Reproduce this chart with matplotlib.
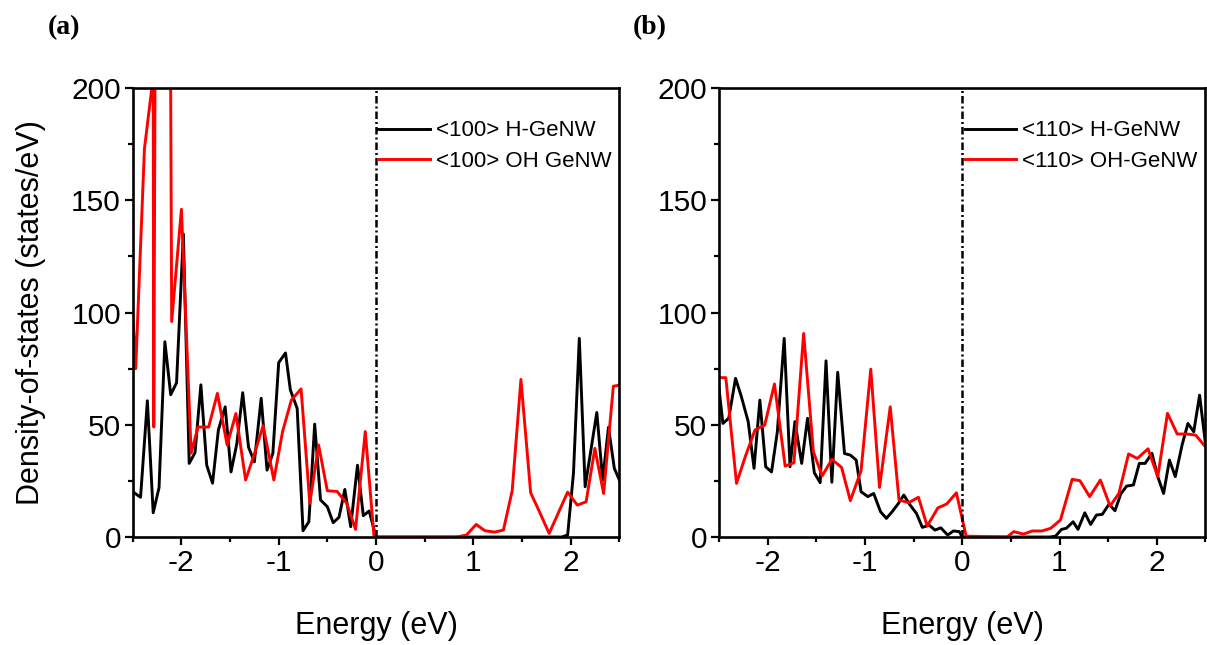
import matplotlib
matplotlib.use("Agg")
import matplotlib.pyplot as plt
from matplotlib.ticker import MultipleLocator

plt.rcParams['font.family'] = ['Liberation Sans', 'DejaVu Sans']
plt.rcParams['axes.unicode_minus'] = False

# ---- panel (a): <100> wires ----
ea_h = [-2.50, -2.42, -2.35, -2.29, -2.23, -2.17, -2.11, -2.05, -1.98, -1.92,
        -1.86, -1.80, -1.74, -1.68, -1.62, -1.55, -1.49, -1.43, -1.37, -1.31,
        -1.25, -1.18, -1.12, -1.06, -1.00, -0.93, -0.88, -0.81, -0.75, -0.69,
        -0.63, -0.57, -0.50, -0.44, -0.38, -0.32, -0.26, -0.19, -0.13, -0.07,
        0.00, 1.91, 1.97, 2.03, 2.09, 2.15, 2.27, 2.33, 2.39, 2.45, 2.51]
dos_a_h = [20.2, 17.7, 60.7, 10.8, 22, 87, 63.4, 68.7, 135, 32.8,
           37.6, 67.8, 32, 24, 47.7, 58, 29, 41.7, 64.3, 40,
           33.5, 61.8, 29.8, 37.3, 77.7, 82, 65.5, 57.3, 2.8, 6.8,
           50.3, 16.5, 13.5, 6.4, 8.8, 21.2, 4.6, 32, 9.5, 11.6,
           0, 0, 0.9, 28.4, 88.5, 22.4, 55.5, 25.4, 48.9, 30.6, 24.6]

ea_oh = [-2.57, -2.47, -2.38, -2.29, -2.284, -2.20, -2.10, -2.00, -1.90, -1.83,
         -1.72, -1.63, -1.53, -1.44, -1.34, -1.25, -1.16, -1.05, -0.96, -0.87,
         -0.77, -0.68, -0.59, -0.50, -0.40, -0.30, -0.21, -0.11, -0.02, 0.83,
         0.93, 1.03, 1.12, 1.22, 1.31, 1.40, 1.49, 1.59, 1.68, 1.78,
         1.97, 2.07, 2.16, 2.25, 2.34, 2.44, 2.51]
dos_a_oh = [156, 75, 173, 205, 49, 1100, 96, 146, 37.4, 49,
            49, 64, 41, 55, 25.4, 37, 49.6, 25.4, 47, 61,
            66, 15, 41, 20.6, 20.3, 15, 3.4, 47, 0, 0,
            0.9, 5.6, 2.8, 2.2, 3.1, 20.6, 70.2, 19.7, 11.3, 1.6,
            20, 14.2, 15.7, 39.5, 19.4, 67.2, 67.7]

# ---- panel (b): <110> wires ----
eb_h = [-2.51, -2.46, -2.40, -2.33, -2.27, -2.20, -2.14, -2.08, -2.02, -1.96,
        -1.90, -1.83, -1.77, -1.72, -1.65, -1.59, -1.52, -1.46, -1.40, -1.34,
        -1.28, -1.21, -1.15, -1.09, -1.04, -0.97, -0.91, -0.84, -0.78, -0.72,
        -0.66, -0.60, -0.54, -0.47, -0.41, -0.34, -0.28, -0.22, -0.15, -0.09,
        -0.03, 0.00, 0.90, 0.96, 1.02, 1.07, 1.14, 1.19, 1.26, 1.32, 1.38,
        1.44, 1.51, 1.57, 1.63, 1.69, 1.76, 1.82, 1.88, 1.95, 2.01,
        2.07, 2.13, 2.19, 2.26, 2.32, 2.38, 2.44, 2.50]
dos_b_h = [70, 50.6, 52.9, 70.7, 62.5, 51.4, 30.6, 61, 31.3, 29,
           47, 88.5, 31.3, 51.4, 32.8, 52.9, 28.6, 24.2, 78.5, 24.4,
           73.4, 37.2, 36.5, 34.3, 20.2, 18, 19.4, 11.3, 8.3, 11.3,
           14.7, 18.7, 14.5, 10.5, 4.3, 5.3, 3.1, 4.1, 0.9, 2.7,
           2.4, 0, 0, 0.4, 3.4, 3.9, 6.8, 3.4, 10.8, 5.6, 9.8,
           10.1, 14.7, 11.7, 19.2, 22.7, 23.2, 32.8, 32.8, 37.3, 26.9,
           19.4, 34.3, 26.9, 41, 50.6, 46.9, 63.2, 41.7]

eb_oh = [-2.52, -2.43, -2.32, -2.23, -2.13, -2.03, -1.93, -1.82, -1.73, -1.63,
         -1.53, -1.44, -1.34, -1.24, -1.15, -1.04, -0.94, -0.85, -0.74, -0.65,
         -0.55, -0.45, -0.36, -0.25, -0.16, -0.06, 0.04, 0.46, 0.53, 0.63,
         0.72, 0.82, 0.91, 1.01, 1.13, 1.21, 1.31, 1.42, 1.52, 1.61,
         1.71, 1.80, 1.91, 2.01, 2.11, 2.21, 2.31, 2.40, 2.50]
dos_b_oh = [71, 71, 23.9, 35.8, 47.7, 49.9, 68.2, 31.6, 33.1, 90.7,
            38, 27.2, 34.6, 31, 16.2, 29.5, 74.8, 22.1, 58, 16.5,
            15.3, 17.7, 4.9, 13, 14.7, 19.7, 0.4, 0, 2.4, 1.3,
            2.7, 2.7, 3.9, 7.6, 25.7, 25.1, 18, 25.4, 13.8, 19.4,
            37, 35, 39.3, 26.9, 55.1, 45.9, 45.9, 45.4, 40.2]

panels = [
    ("(a)", ea_h, dos_a_h, ea_oh, dos_a_oh, "<100> H-GeNW", "<100> OH GeNW"),
    ("(b)", eb_h, dos_b_h, eb_oh, dos_b_oh, "<110> H-GeNW", "<110> OH-GeNW"),
]
lefts = [0.110, 0.5957]

fig = plt.figure(figsize=(12.07, 6.45), dpi=100)

for (tag, xh, yh, xo, yo, lab_h, lab_o), left in zip(panels, lefts):
    ax = fig.add_axes([left, 0.1674, 0.4030, 0.696])
    ax.plot(xh, yh, color='black', lw=2.1, label=lab_h)
    ax.plot(xo, yo, color='red', lw=2.1, label=lab_o)
    ax.axvline(0, color='black', lw=1.8, linestyle=(0, (3, 1.2, 0.8, 1.2)))
    ax.set_xlim(-2.5, 2.5)
    ax.set_ylim(0, 200)
    ax.xaxis.set_major_locator(MultipleLocator(1))
    ax.xaxis.set_minor_locator(MultipleLocator(0.5))
    ax.yaxis.set_major_locator(MultipleLocator(50))
    ax.yaxis.set_minor_locator(MultipleLocator(25))
    ax.tick_params(which='both', direction='out', width=1.6, labelsize=21.5,
                   top=False, right=False, pad=3)
    ax.tick_params(which='major', length=5.5)
    ax.tick_params(which='minor', length=3.5)
    for s in ax.spines.values():
        s.set_linewidth(1.9)
    ax.set_xlabel("Energy (eV)", fontsize=22)
    ax.xaxis.set_label_coords(0.5, -0.165)
    if tag == "(a)":
        ax.set_ylabel("Density-of-states (states/eV)", fontsize=22)
        ax.yaxis.set_label_coords(-0.178, 0.5)
    ax.legend(loc='upper left', bbox_to_anchor=(0.505, 0.928), frameon=False,
              borderpad=0, borderaxespad=0, handlelength=2.3,
              handletextpad=0.3, labelspacing=0.42, fontsize=16)
    bb = ax.get_position()
    fig.text(bb.x0 - 0.057, 0.957, tag, family='Liberation Serif',
             fontweight='bold', fontsize=20, ha='center', va='center')

fig.savefig("out.png", dpi=100)
